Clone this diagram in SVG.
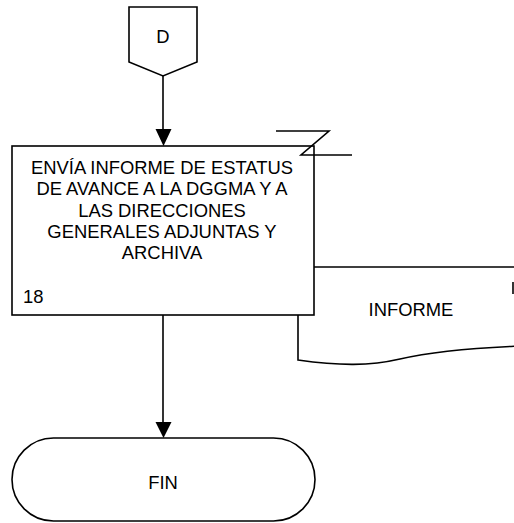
<svg xmlns="http://www.w3.org/2000/svg" width="514" height="523" viewBox="0 0 514 523">
  <style>
    .shape { fill: #ffffff; stroke: #000000; stroke-width: 1.6; }
    .line { fill: none; stroke: #000000; stroke-width: 1.6; }
    .label { font-family: "Liberation Sans", Arial, sans-serif; font-size: 18.4px; fill: #000000; }
    .mid { text-anchor: middle; }
  </style>
  <defs>
    <marker id="arrow" markerWidth="16" markerHeight="16" refX="8" refY="16" orient="auto-start-reverse" markerUnits="userSpaceOnUse" viewBox="0 0 16 16">
      <path d="M0,0 L16,0 L8,16 Z" fill="#000000" transform="rotate(-90 8 8)"/>
    </marker>
  </defs>

  <!-- document output, drawn first so the process box covers its left part -->
  <g id="doc-informe">
    <path class="shape" d="M298,267 L520,267 L520,346 C470,348 430,352 400,359 C370,366 340,366 298,360 Z"/>
    <text class="label mid" x="411" y="316">INFORME</text>
    <line class="line" x1="513" y1="282" x2="513" y2="294" stroke="#444444"/>
  </g>

  <!-- connectors -->
  <g id="connectors">
    <line class="line" x1="163" y1="76" x2="163" y2="130"/>
    <path d="M155.5,129 L171.5,129 L163.5,146 Z" fill="#000000"/>
    <line class="line" x1="163" y1="315" x2="163" y2="423"/>
    <path d="M155.5,422 L171.5,422 L163.5,438 Z" fill="#000000"/>
  </g>

  <!-- off-page connector D -->
  <g id="conn-d">
    <path class="shape" d="M129,7 L197,7 L197,62 L163,76 L129,62 Z"/>
    <text class="label mid" x="163" y="43">D</text>
  </g>

  <!-- process step 18 -->
  <g id="step-18">
    <rect class="shape" x="12" y="146" width="302" height="169"/>
    <text class="label mid" x="162" y="174">ENVÍA INFORME DE ESTATUS</text>
    <text class="label mid" x="162" y="195.3">DE AVANCE A LA DGGMA Y A</text>
    <text class="label mid" x="162" y="216.6">LAS DIRECCIONES</text>
    <text class="label mid" x="162" y="237.9">GENERALES ADJUNTAS Y</text>
    <text class="label mid" x="162" y="259.2">ARCHIVA</text>
    <text class="label" x="23" y="303">18</text>
  </g>

  <!-- annotation mark -->
  <g id="note-mark">
    <path class="line" d="M276,131 L329,131 L301,155 L352,155"/>
  </g>

  <!-- terminator FIN -->
  <g id="end-fin">
    <rect class="shape" x="12" y="438" width="303" height="83" rx="41.5" ry="41.5"/>
    <text class="label mid" x="163" y="489">FIN</text>
  </g>
</svg>
